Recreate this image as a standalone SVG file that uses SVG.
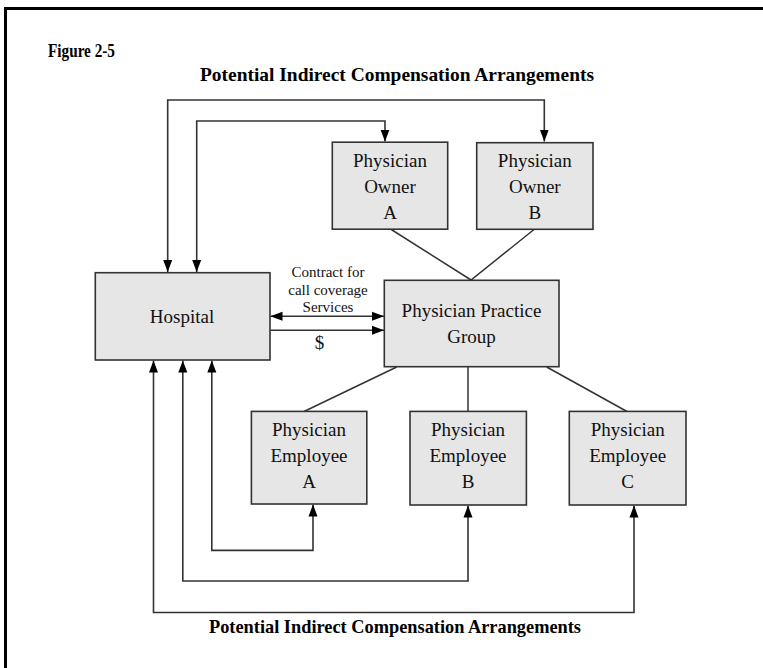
<svg xmlns="http://www.w3.org/2000/svg" width="763" height="668" viewBox="0 0 763 668">
<style>
.box{fill:#e6e6e6;stroke:#333;stroke-width:1.6}
.t{font-family:"Liberation Serif","Times New Roman",serif;font-size:19px;fill:#111;text-anchor:middle}
.s{font-family:"Liberation Serif","Times New Roman",serif;font-size:15px;fill:#111;text-anchor:middle}
.h{font-family:"Liberation Serif","Times New Roman",serif;font-size:19px;font-weight:bold;fill:#000}
.ln{fill:none;stroke:#333;stroke-width:1.5}
.ar{fill:none;stroke:#333;stroke-width:1.6;marker-end:url(#ah)}
.ar2{fill:none;stroke:#333;stroke-width:1.6;marker-end:url(#ah);marker-start:url(#ah)}
</style>
<defs>
<marker id="ah" markerUnits="userSpaceOnUse" markerWidth="12" markerHeight="10" refX="12" refY="5" orient="auto-start-reverse">
<path d="M0,0.5 L12,5 L0,9.5 z" fill="#000"/>
</marker>
</defs>
<rect width="763" height="668" fill="#fff"/>
<path d="M5.5,668 V8.5 H763" fill="none" stroke="#000" stroke-width="3"/>
<text class="h" x="48" y="57" font-size="17" textLength="67" lengthAdjust="spacingAndGlyphs">Figure 2-5</text>
<text class="h" x="200" y="81" textLength="394" lengthAdjust="spacingAndGlyphs">Potential Indirect Compensation Arrangements</text>
<text class="h" x="209" y="633" textLength="372" lengthAdjust="spacingAndGlyphs">Potential Indirect Compensation Arrangements</text>

<g id="connectors">
<path class="ar2" d="M167.7,272 V100 H544.3 V141.5"/>
<path class="ar2" d="M196.7,272 V121 H385 V141.5"/>
<path class="ar2" d="M270.5,316.3 H384"/>
<path class="ar" d="M270.5,330.3 H384"/>
<path class="ar2" d="M211.8,360.5 V550.4 H313 V504.5"/>
<path class="ar2" d="M182.8,360.5 V581 H468 V505.5"/>
<path class="ar2" d="M153.5,360.5 V612.5 H634 V505.5"/>
<path class="ln" d="M391.3,229.5 L471,280 L534,229.5"/>
<path class="ln" d="M396.7,367 L304,411.5"/>
<path class="ln" d="M468,367 V411.5"/>
<path class="ln" d="M546.7,367 L627,411.5"/>
<text class="s" x="328" y="277">Contract for</text>
<text class="s" x="328" y="294.5">call coverage</text>
<text class="s" x="328" y="312">Services</text>
<text class="t" x="319.5" y="349">$</text>
</g>

<g id="hospital">
<rect class="box" x="95.3" y="272.7" width="174.7" height="87.3"/>
<text class="t" x="182" y="323">Hospital</text>
</g>
<g id="practice">
<rect class="box" x="384.3" y="280.3" width="174.7" height="86.4"/>
<text class="t" x="471.5" y="317">Physician Practice</text>
<text class="t" x="471.5" y="343">Group</text>
</g>
<g id="ownerA">
<rect class="box" x="332.3" y="142.2" width="115.4" height="87"/>
<text class="t" x="390" y="166.7">Physician</text>
<text class="t" x="390" y="192.7">Owner</text>
<text class="t" x="390" y="218.5">A</text>
</g>
<g id="ownerB">
<rect class="box" x="476.7" y="142.7" width="116.3" height="86.6"/>
<text class="t" x="534.8" y="167">Physician</text>
<text class="t" x="534.8" y="193">Owner</text>
<text class="t" x="534.8" y="219">B</text>
</g>
<g id="employeeA">
<rect class="box" x="251.4" y="411.4" width="115.4" height="92.6"/>
<text class="t" x="309" y="435.5">Physician</text>
<text class="t" x="309" y="461.5">Employee</text>
<text class="t" x="309" y="488">A</text>
</g>
<g id="employeeB">
<rect class="box" x="410" y="411.4" width="116.4" height="93.6"/>
<text class="t" x="468" y="435.5">Physician</text>
<text class="t" x="468" y="461.5">Employee</text>
<text class="t" x="468" y="488">B</text>
</g>
<g id="employeeC">
<rect class="box" x="569.3" y="411.4" width="116.7" height="93.6"/>
<text class="t" x="627.7" y="435.5">Physician</text>
<text class="t" x="627.7" y="461.5">Employee</text>
<text class="t" x="627.7" y="488">C</text>
</g>
</svg>
